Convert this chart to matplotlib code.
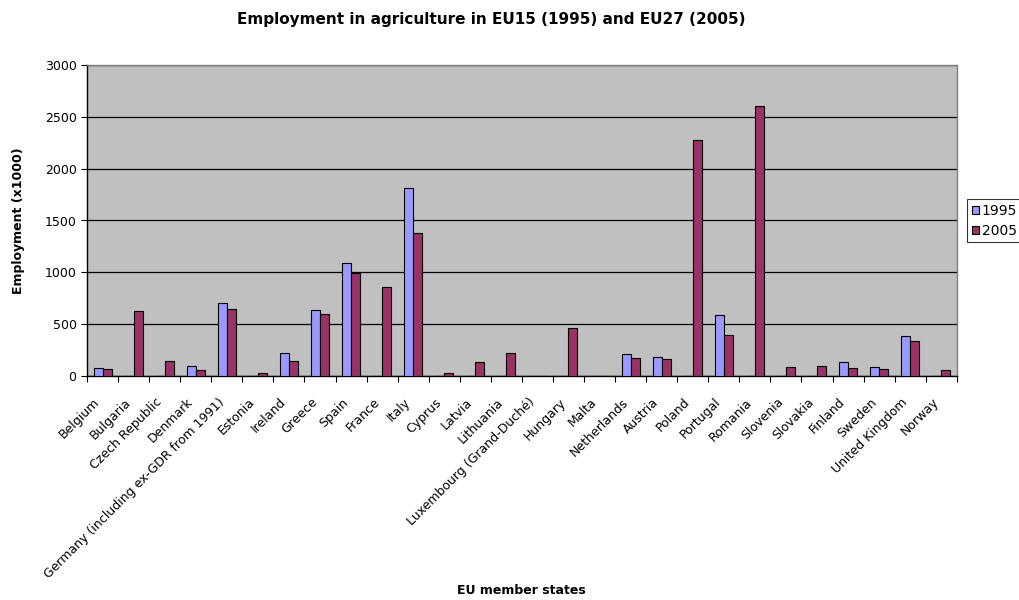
import numpy as np
import matplotlib
matplotlib.use("Agg")
import matplotlib.pyplot as plt
from matplotlib.ticker import FixedLocator

plt.rcParams["font.family"] = ["DejaVu Sans"]

countries = [
    "Belgium", "Bulgaria", "Czech Republic", "Denmark",
    "Germany (including ex-GDR from 1991)", "Estonia", "Ireland", "Greece",
    "Spain", "France", "Italy", "Cyprus", "Latvia", "Lithuania",
    "Luxembourg (Grand-Duché)", "Hungary", "Malta", "Netherlands", "Austria",
    "Poland", "Portugal", "Romania", "Slovenia", "Slovakia", "Finland",
    "Sweden", "United Kingdom", "Norway",
]
emp_1995 = [80, 0, 0, 103, 707, 0, 219, 634, 1088, 0, 1816, 0, 0, 0, 5, 0,
            0, 212, 186, 0, 585, 0, 0, 0, 132, 87, 383, 0]
emp_2005 = [67, 627, 151, 58, 643, 35, 151, 598, 993, 858, 1376, 32, 138, 225,
            5, 460, 3, 174, 164, 2272, 398, 2600, 93, 99, 80, 67, 338, 58]

fig = plt.figure(figsize=(10.2, 6.0), dpi=100)
ax = fig.add_axes([0.0853, 0.373, 0.8527, 0.519])
ax.set_facecolor("#C0C0C0")

x = np.arange(len(countries))
w = 0.29
ax.bar(x - w / 2, emp_1995, width=w, color="#9999FF", edgecolor="black",
       linewidth=0.8, label="1995", zorder=3)
ax.bar(x + w / 2, emp_2005, width=w, color="#993366", edgecolor="black",
       linewidth=0.8, label="2005", zorder=3)

ax.set_xlim(-0.5, len(countries) - 0.5)
ax.set_ylim(0, 3000)
ax.set_yticks(np.arange(0, 3001, 500))
ax.yaxis.grid(True, color="black", linewidth=0.9, zorder=1)
ax.set_axisbelow(True)

# labels sit a little left of the group centre, like the original
ax.set_xticks(x - 0.3)
ax.set_xticklabels(countries, rotation=45, ha="right", rotation_mode="anchor",
                   fontsize=9)
ax.tick_params(axis="x", which="major", length=0, pad=14)
ax.xaxis.set_minor_locator(FixedLocator(np.arange(-0.5, len(countries), 1.0)))
ax.tick_params(axis="x", which="minor", length=4, width=0.8, color="black")
ax.tick_params(axis="y", length=4, width=0.8, labelsize=9)

for side in ("top", "right"):
    ax.spines[side].set_color("#808080")
    ax.spines[side].set_linewidth(1.0)
for side in ("left", "bottom"):
    ax.spines[side].set_color("black")
    ax.spines[side].set_linewidth(1.0)

ax.set_ylabel("Employment (x1000)", fontsize=9, fontweight="bold", labelpad=14)
fig.text(0.511, 0.005, "EU member states", ha="center", va="bottom",
         fontsize=9, fontweight="bold")
fig.text(0.482, 0.968, "Employment in agriculture in EU15 (1995) and EU27 (2005)",
         ha="center", va="center", fontsize=11, fontweight="bold")

leg = fig.legend(loc="upper left", bbox_to_anchor=(0.948, 0.668),
                 fontsize=10, frameon=True, fancybox=False, edgecolor="black",
                 handlelength=0.55, handleheight=0.55, handletextpad=0.15,
                 borderpad=0.35, labelspacing=0.4, borderaxespad=0)
leg.get_frame().set_linewidth(0.8)

fig.savefig("out.png", dpi=100, facecolor="white")
